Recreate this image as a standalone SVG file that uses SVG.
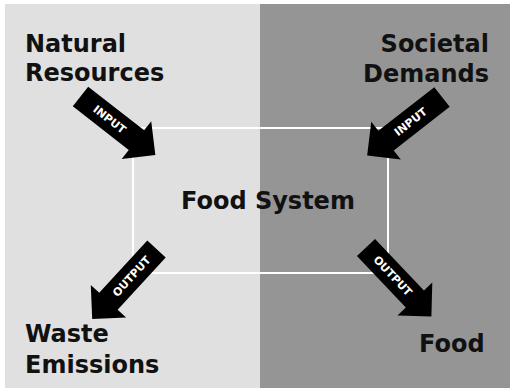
<svg xmlns="http://www.w3.org/2000/svg" width="510" height="391" viewBox="0 0 510 391">
  <style>
    .lbl { font-family: "DejaVu Sans", "Liberation Sans", sans-serif; font-weight: bold; font-size: 24px; fill: #111; }
    .atxt { font-family: "DejaVu Sans", "Liberation Sans", sans-serif; font-weight: bold; font-size: 11px; fill: #fff; text-anchor: middle; }
    .arrow { fill: #000; }
  </style>
  <defs>
    <path id="arr" d="M0,-12.5 H71 V-24 L95,0 L71,24 V12.5 H0 Z"/>
  </defs>
  <rect width="510" height="391" fill="#fff"/>
  <g id="panels">
    <rect x="5" y="4" width="255" height="384" fill="#e0e0e0"/>
    <rect x="260" y="4" width="250" height="384" fill="#959595"/>
  </g>
  <g id="food-system">
    <rect x="133" y="128" width="255" height="145" fill="none" stroke="#fff" stroke-width="2"/>
    <text class="lbl" x="181" y="209">Food System</text>
  </g>
  <g id="natural-resources">
    <text class="lbl" x="25" y="52">Natural</text>
    <text class="lbl" x="25" y="81">Resources</text>
  </g>
  <g id="societal-demands">
    <text class="lbl" x="489" y="52" text-anchor="end">Societal</text>
    <text class="lbl" x="489" y="82" text-anchor="end">Demands</text>
  </g>
  <g id="waste-emissions">
    <text class="lbl" x="25" y="342">Waste</text>
    <text class="lbl" x="25" y="373">Emissions</text>
  </g>
  <g id="food">
    <text class="lbl" x="419" y="352">Food</text>
  </g>
  <g id="connectors">
    <g transform="translate(80.5,96.5) rotate(38)">
      <use href="#arr" class="arrow"/>
      <text class="atxt" x="37" y="4">INPUT</text>
    </g>
    <g transform="translate(442,97) rotate(142)">
      <use href="#arr" class="arrow"/>
      <text class="atxt" transform="translate(40,0) rotate(180)" y="4">INPUT</text>
    </g>
    <g transform="translate(156.5,249) rotate(132.6)">
      <use href="#arr" class="arrow"/>
      <text class="atxt" transform="translate(37,0) rotate(180)" y="4">OUTPUT</text>
    </g>
    <g transform="translate(366,247.5) rotate(46.5)">
      <use href="#arr" class="arrow"/>
      <text class="atxt" x="39" y="4">OUTPUT</text>
    </g>
  </g>
</svg>
